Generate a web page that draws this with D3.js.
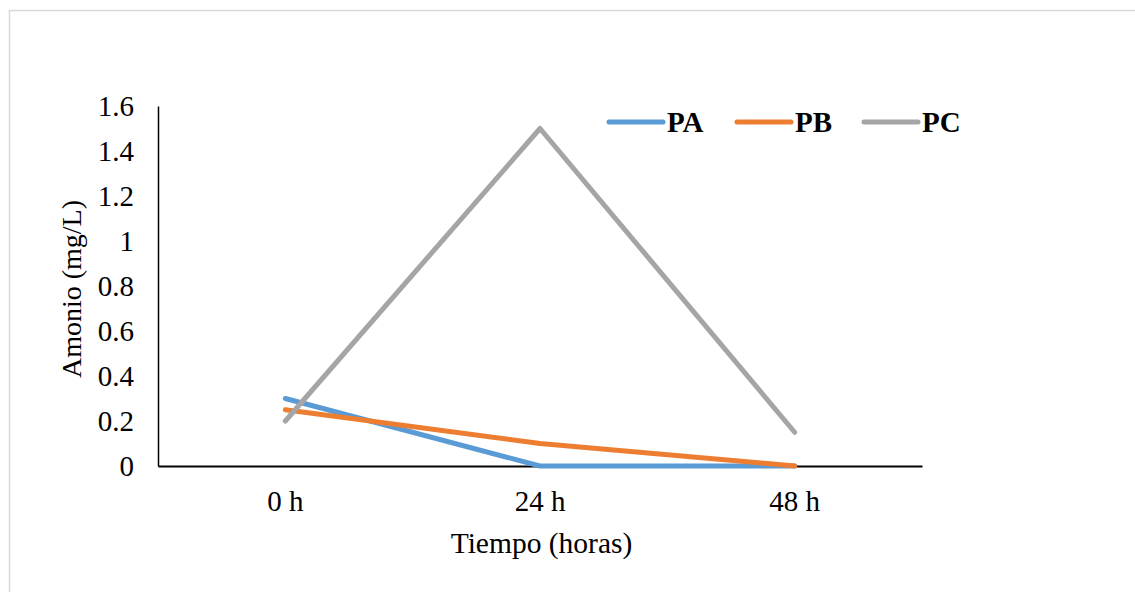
<!DOCTYPE html>
<html><head><meta charset="utf-8">
<script src="https://cdn.jsdelivr.net/npm/d3@7"></script>
<style>body{margin:0;background:#fff}svg{display:block}text{font-family:"Liberation Serif","Times New Roman",serif;fill:#000}</style>
</head><body><svg id="c" width="1135" height="592"></svg>
<script>
const categories = ["0 h", "24 h", "48 h"];
const seriesNames = ["PA", "PB", "PC"];
const PA = [0.3, 0, 0];
const PB = [0.25, 0.1, 0];
const PC = [0.2, 1.5, 0.15];
const yTicks = [0, 0.2, 0.4, 0.6, 0.8, 1, 1.2, 1.4, 1.6];
const colors = ["#5B9BD5", "#ED7D31", "#A5A5A5"];
const seriesValues = [PA, PB, PC];

const svg = d3.select("#c");
svg.append("rect").attr("x", 9.5).attr("y", 10.5).attr("width", 1140).attr("height", 600)
  .attr("fill", "#fff").attr("stroke", "#d9d9d9").attr("stroke-width", 1.5);

const L = 158, R = 922, T = 106, B = 466;
const x = d3.scaleBand().domain(categories).range([L, R]);
const y = d3.scaleLinear().domain([0, 1.6]).range([B, T]);

// axes
const yAxis = d3.axisLeft(y).tickValues(yTicks).tickSize(0).tickPadding(24).tickFormat(d => d3.format("")(d));
const gy = svg.append("g").attr("transform", `translate(${L},0)`).call(yAxis);
gy.select(".domain").attr("stroke", "#000").attr("stroke-width", 1.5);
gy.selectAll("text").attr("font-size", 29).attr("font-family", "Liberation Serif").attr("dy", "0.32em");

const xAxis = d3.axisBottom(x).tickSize(0);
const gx = svg.append("g").attr("transform", `translate(0,${B})`).call(xAxis);
gx.select(".domain").attr("stroke", "#000").attr("stroke-width", 2);
gx.selectAll("text").attr("font-size", 29).attr("font-family", "Liberation Serif")
  .attr("y", 45).attr("dy", 0);

// lines
const line = d3.line().x((d, i) => x(categories[i]) + x.bandwidth() / 2).y(d => y(d));
seriesValues.forEach((vals, k) => {
  svg.append("path").datum(vals).attr("d", line).attr("fill", "none")
    .attr("stroke", colors[k]).attr("stroke-width", 5)
    .attr("stroke-linecap", "round").attr("stroke-linejoin", "round");
});

// titles
svg.append("text").attr("x", 541.5).attr("y", 553).attr("text-anchor", "middle")
  .attr("font-size", 29.5).text("Tiempo (horas)");
svg.append("text").attr("transform", "translate(81,289) rotate(-90)").attr("text-anchor", "middle")
  .attr("font-size", 28).text("Amonio (mg/L)");

// legend
const legX = [609, 737, 864];
seriesNames.forEach((n, k) => {
  const g = svg.append("g").attr("transform", `translate(${legX[k]},122)`);
  g.append("line").attr("x1", 0).attr("x2", 54).attr("y1", 0).attr("y2", 0)
    .attr("stroke", colors[k]).attr("stroke-width", 5).attr("stroke-linecap", "round");
  g.append("text").attr("x", 58).attr("y", 10).attr("font-size", 29).attr("font-weight", "bold").text(n);
});
</script></body></html>
